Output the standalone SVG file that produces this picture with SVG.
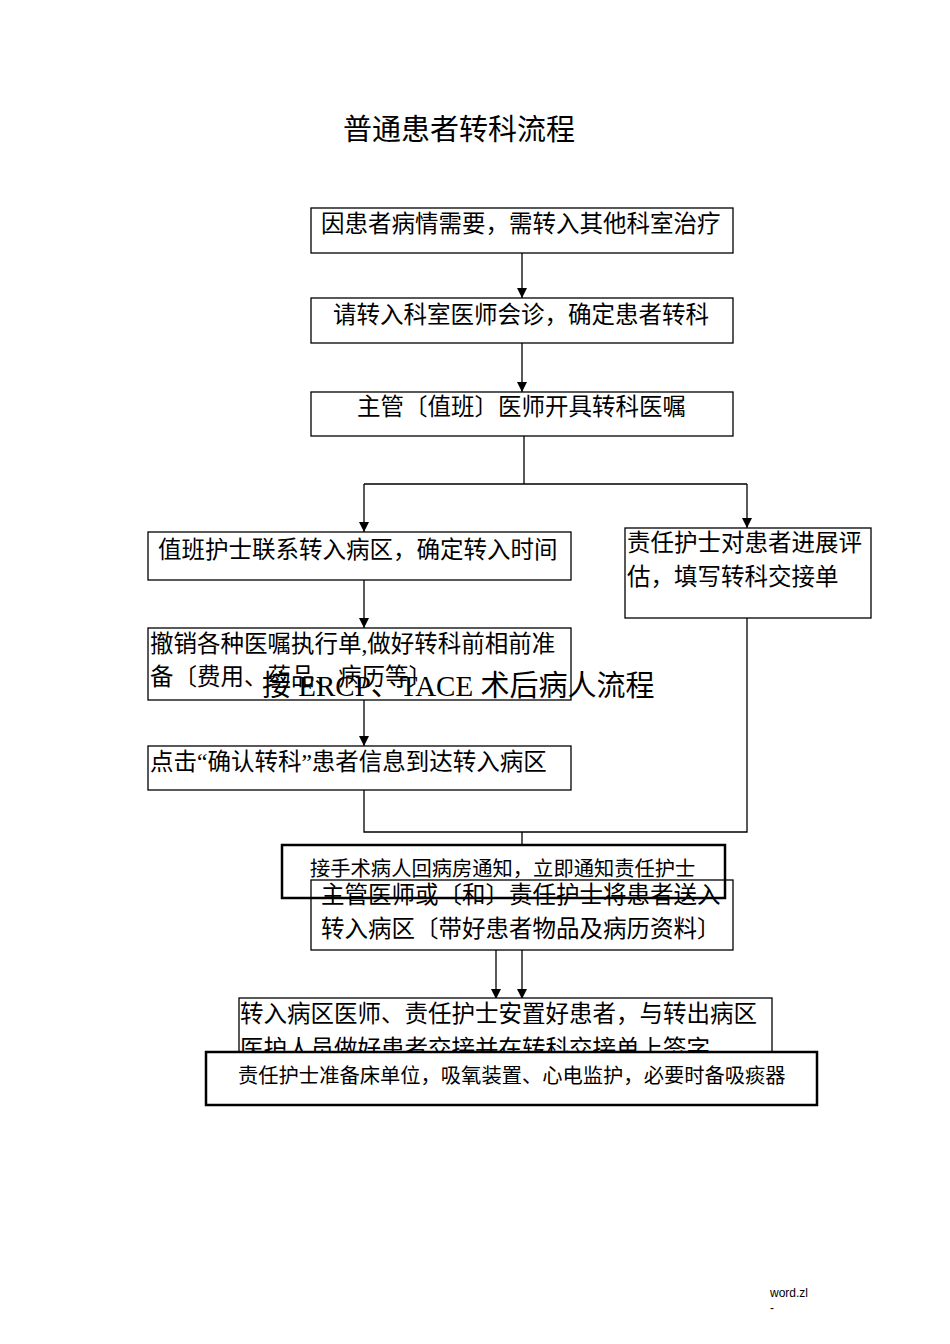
<svg xmlns="http://www.w3.org/2000/svg" width="950" height="1344" viewBox="0 0 950 1344">
<defs>
<marker id="a" markerWidth="10" markerHeight="12" refX="10" refY="5" orient="auto" markerUnits="userSpaceOnUse"><path d="M0,0 L10,5 L0,10 Z" fill="#000"/></marker>
</defs>
<style>
text{font-family:"Liberation Serif","Noto Sans CJK SC",serif;fill:#000;font-size:23.5px}
.b{fill:#fff;stroke:#000;stroke-width:1.3}
.t{fill:#fff;stroke:#000;stroke-width:2.5}
.c{fill:none;stroke:#000;stroke-width:1.3}
</style>
<rect width="950" height="1344" fill="#fff"/>
<text x="343" y="140" style="font-size:29px">普通患者转科流程</text>
<g id="connectors">
<path class="c" d="M522,253V298" marker-end="url(#a)"/>
<path class="c" d="M522,343V392" marker-end="url(#a)"/>
<path class="c" d="M524,436V484M364,484H747"/>
<path class="c" d="M364,484V532" marker-end="url(#a)"/>
<path class="c" d="M747,484V528" marker-end="url(#a)"/>
<path class="c" d="M364,580V628" marker-end="url(#a)"/>
<path class="c" d="M364,700V746" marker-end="url(#a)"/>
<path class="c" d="M364,790V832H747V618M522,832V845"/>
<path class="c" d="M496,950V999" marker-end="url(#a)"/>
<path class="c" d="M522,950V999" marker-end="url(#a)"/>
</g>
<g id="n1"><rect class="b" x="311" y="208" width="422" height="45"/><text x="321" y="232">因患者病情需要，需转入其他科室治疗</text></g>
<g id="n2"><rect class="b" x="311" y="298" width="422" height="45"/><text x="333" y="323">请转入科室医师会诊，确定患者转科</text></g>
<g id="n3"><rect class="b" x="311" y="392" width="422" height="44"/><text x="357" y="415">主管〔值班〕医师开具转科医嘱</text></g>
<g id="n4"><rect class="b" x="148" y="532" width="423" height="48"/><text x="158" y="558">值班护士联系转入病区，确定转入时间</text></g>
<g id="n5"><rect class="b" x="625" y="528" width="246" height="90"/><text x="627" y="551">责任护士对患者进展评</text><text x="627" y="585">估，填写转科交接单</text></g>
<g id="n6"><rect class="b" x="148" y="628" width="423" height="72"/><text x="150" y="652">撤销各种医嘱执行单,做好转科前相前准</text><text x="150" y="685">备〔费用、药品、病历等〕</text></g>
<text x="262" y="696" style="font-size:29px">接 ERCP、TACE 术后病人流程</text>
<g id="n7"><rect class="b" x="148" y="746" width="423" height="44"/><text x="150" y="770">点击“确认转科”患者信息到达转入病区</text></g>
<g id="n9"><rect class="b" x="311" y="880" width="422" height="70"/><text x="321" y="903">主管医师或〔和〕责任护士将患者送入</text><text x="321" y="937">转入病区〔带好患者物品及病历资料〕</text></g>
<g id="n8"><rect class="t" x="282" y="845" width="443" height="53" style="fill:none"/><text x="310" y="876" style="font-size:20.3px">接手术病人回病房通知，立即通知责任护士</text></g>
<g id="n10"><rect class="b" x="239" y="998" width="533" height="57"/><text x="240" y="1022">转入病区医师、责任护士安置好患者，与转出病区</text><text x="240" y="1057">医护人员做好患者交接并在转科交接单上签字</text></g>
<g id="n11"><rect class="t" x="206" y="1052" width="611" height="53"/><text x="238" y="1083" style="font-size:20.3px">责任护士准备床单位，吸氧装置、心电监护，必要时备吸痰器</text></g>
<text x="770" y="1297" style="font-family:'Liberation Sans',sans-serif;font-size:12px">word.zl</text>
<text x="770" y="1312" style="font-family:'Liberation Sans',sans-serif;font-size:12px">-</text>
</svg>
